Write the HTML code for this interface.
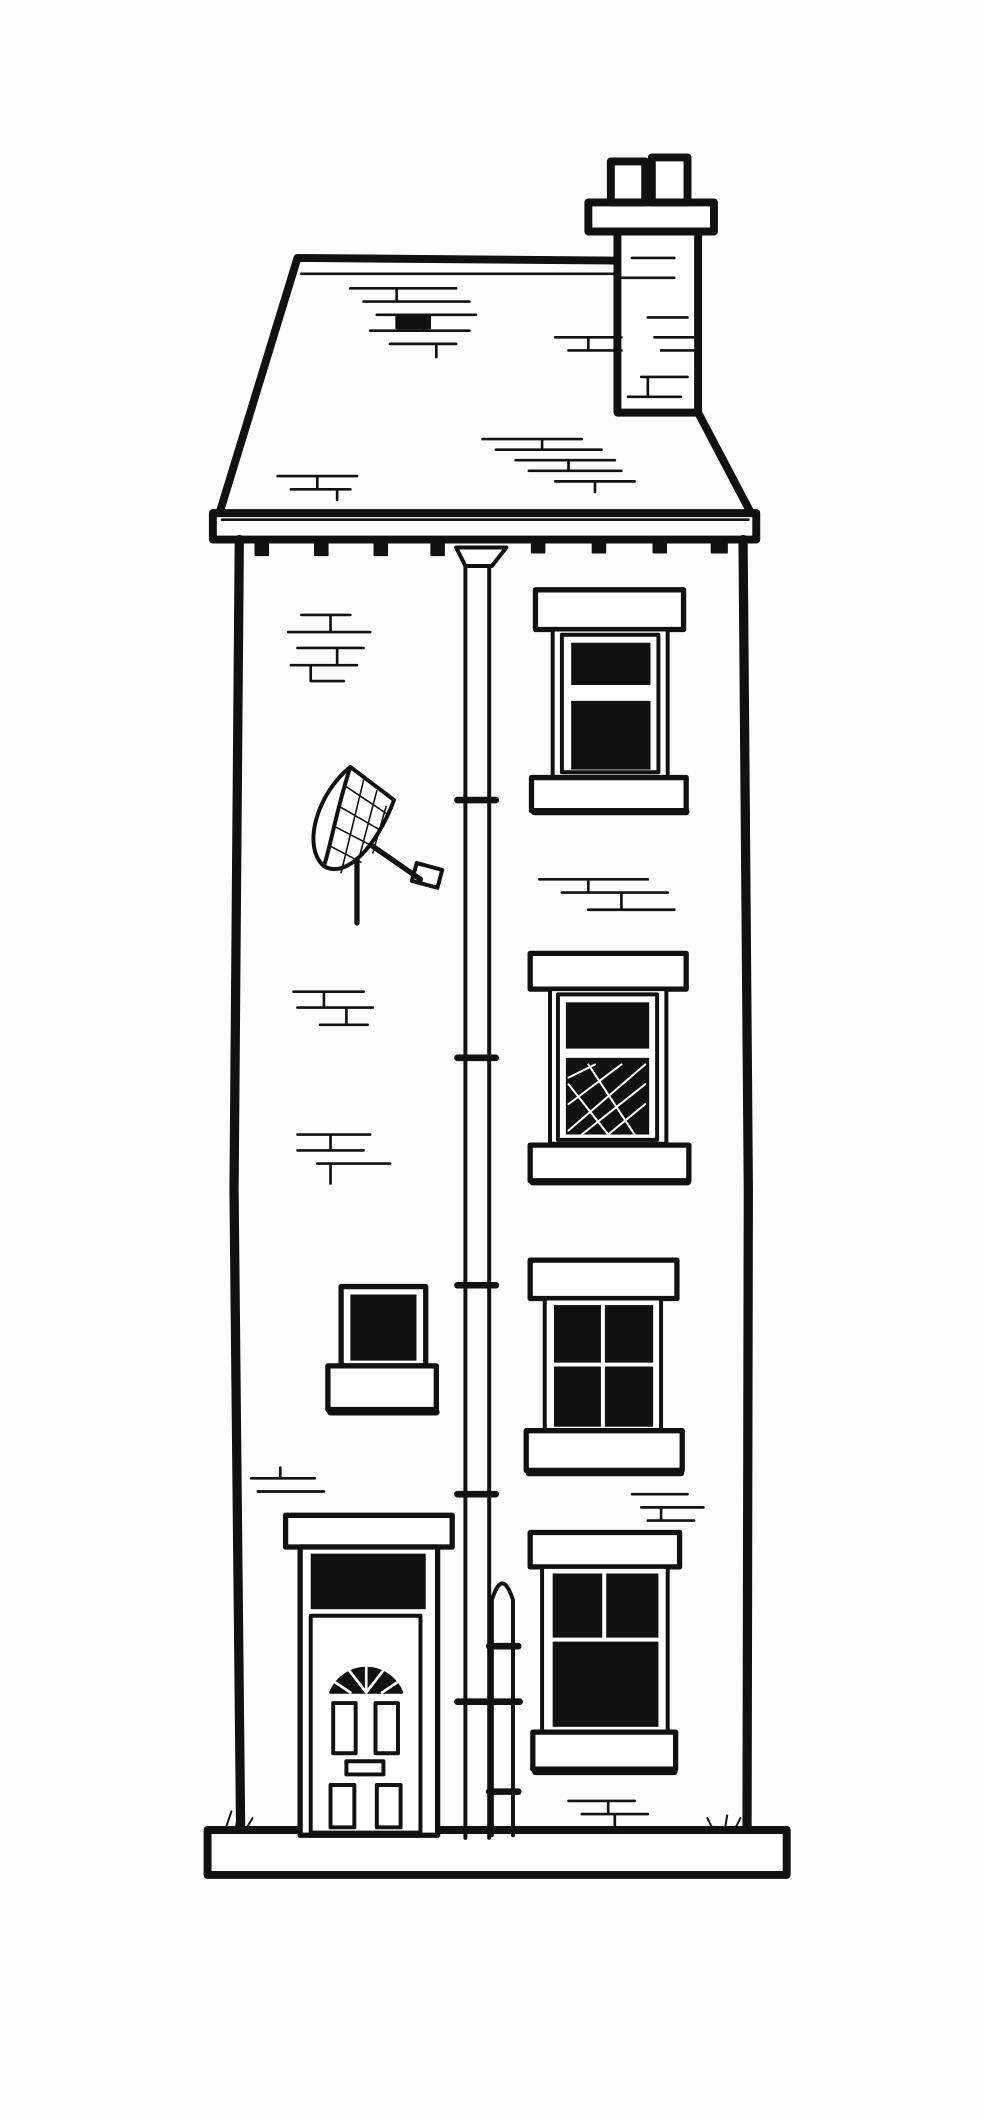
<!DOCTYPE html>
<html><head><meta charset="utf-8"><style>html,body{margin:0;padding:0;background:#fff}svg{display:block}</style></head>
<body>
<svg width="985" height="2117" viewBox="0 0 745 1601" xmlns="http://www.w3.org/2000/svg">
<rect width="745" height="1601" fill="#fdfdfd"/>
<g fill="none" stroke="#111" stroke-linecap="round" stroke-linejoin="round">
<!-- roof -->
<path d="M225 195 L465 197 M225 195 L166 388 M528 312 L568 388" stroke-width="6"/>
<path d="M228 207 L465 207" stroke-width="2"/>
<rect x="161" y="388" width="411" height="20" stroke-width="6" fill="#fff"/>
<path d="M168 393 L566 393" stroke-width="2"/>
<!-- eave brackets -->
<g fill="#111" stroke-width="1">
<rect x="193" y="408" width="10" height="12"/><rect x="238" y="408" width="10" height="12"/><rect x="283" y="408" width="10" height="12"/><rect x="326" y="408" width="10" height="12"/><rect x="402" y="408" width="10" height="10"/><rect x="448" y="408" width="10" height="10"/><rect x="494" y="408" width="10" height="10"/><rect x="538" y="408" width="12" height="10"/>
</g>
<!-- chimney -->
<rect x="467" y="175" width="61" height="137" stroke-width="6" fill="#fff"/>
<rect x="445" y="153" width="95" height="22" stroke-width="6" fill="#fff"/>
<rect x="462" y="122" width="26" height="31" stroke-width="6" fill="#fff"/>
<rect x="493" y="119" width="27" height="34" stroke-width="6" fill="#fff"/>
<!-- roof bricks -->
<g stroke-width="2">
<path d="M265 218 H345 M275 228 H355 M285 238 H360 M280 250 H355 M295 260 H345 M300 218 V228 M320 238 V250 M330 260 V270"/>
<rect x="300" y="238" width="25" height="10" fill="#111"/>
<path d="M420 255 H470 M430 265 H470 M445 255 V265 M490 240 H520 M495 255 H525 M500 265 H525 M478 195 H510 M470 210 H510 M485 285 H520 M475 300 H515 M490 285 V300"/>
<path d="M365 332 H440 M375 340 H455 M390 348 H465 M400 356 H470 M420 364 H480 M410 332 V340 M430 348 V356 M450 364 V372"/>
<path d="M210 360 H270 M220 370 H265 M240 360 V370 M255 370 V378"/>
</g>
<!-- walls -->
<path d="M181 408 L177 900 L182 1385" stroke-width="7"/>
<path d="M562 408 L566 900 L565 1385" stroke-width="7"/>
<!-- base -->
<rect x="157" y="1384" width="438" height="34" stroke-width="6" fill="#fff"/>
<path d="M170 1385 l5 -15 M178 1385 l2 -12 M185 1385 l6 -10 M540 1385 l-5 -10 M548 1385 l2 -12 M555 1385 l5 -10" stroke-width="1.5"/>
<!-- drainpipe -->
<path d="M352 425 V1390 M370 425 V1390" stroke-width="3"/>
<path d="M345 414 H383 L372 428 H352 Z" stroke-width="3" fill="#fff"/>
<g stroke-width="5"><path d="M346 605 H375 M346 800 H375 M346 972 H375 M346 1130 H375 M346 1287 H393 M370 1245 H392 M370 1355 H392"/></g>
<path d="M372 1388 V1210 Q380 1185 388 1210 V1388" stroke-width="3"/>
<!-- window 1 -->
<rect x="405" y="446" width="112" height="30" stroke-width="4" fill="#fff"/>
<rect x="418" y="476" width="87" height="112" stroke-width="3" fill="#fff"/>
<rect x="425" y="480" width="73" height="104" stroke-width="3"/>
<rect x="432" y="486" width="60" height="32" fill="#111" stroke="none"/>
<rect x="432" y="530" width="60" height="52" fill="#111" stroke="none"/>
<rect x="402" y="588" width="117" height="25" stroke-width="4" fill="#fff"/>
<path d="M404 614 H519" stroke-width="5"/>
<!-- window 2 -->
<rect x="401" y="721" width="118" height="27" stroke-width="4" fill="#fff"/>
<rect x="416" y="748" width="88" height="117" stroke-width="3" fill="#fff"/>
<rect x="422" y="752" width="75" height="110" stroke-width="3"/>
<rect x="428" y="758" width="63" height="35" fill="#111" stroke="none"/>
<rect x="428" y="800" width="63" height="58" fill="#111" stroke="none"/>
<g stroke="#fff" stroke-width="1.5"><path d="M430 855 L488 805 M440 858 L488 820 M460 858 L488 835 M430 835 L470 805 M430 815 L450 805 M445 805 L480 858 M430 820 L460 858"/></g>
<rect x="401" y="866" width="120" height="27" stroke-width="4" fill="#fff"/>
<path d="M403 894 H520" stroke-width="5"/>
<!-- window 3 -->
<rect x="401" y="953" width="111" height="29" stroke-width="4" fill="#fff"/>
<rect x="412" y="982" width="88" height="100" stroke-width="3" fill="#fff"/>
<rect x="419" y="987" width="75" height="92" fill="#111" stroke="none"/>
<path d="M456 987 V1079 M419 1032 H494" stroke="#fff" stroke-width="3"/>
<rect x="398" y="1082" width="118" height="30" stroke-width="4" fill="#fff"/>
<path d="M400 1114 H515" stroke-width="5"/>
<!-- window 4 -->
<rect x="401" y="1159" width="113" height="26" stroke-width="4" fill="#fff"/>
<rect x="410" y="1185" width="95" height="125" stroke-width="3" fill="#fff"/>
<rect x="418" y="1190" width="80" height="116" fill="#111" stroke="none"/>
<path d="M457 1190 V1240 M418 1240 H498" stroke="#fff" stroke-width="3"/>
<rect x="403" y="1310" width="108" height="28" stroke-width="4" fill="#fff"/>
<path d="M405 1340 H510" stroke-width="5"/>
<!-- small window -->
<rect x="258" y="973" width="64" height="60" stroke-width="4" fill="#fff"/>
<rect x="265" y="979" width="50" height="50" fill="#111" stroke="none"/>
<rect x="248" y="1033" width="82" height="33" stroke-width="4" fill="#fff"/>
<path d="M250 1068 H330" stroke-width="5"/>
<!-- door -->
<rect x="216" y="1146" width="126" height="24" stroke-width="4" fill="#fff"/>
<rect x="227" y="1170" width="104" height="218" stroke-width="4" fill="#fff"/>
<rect x="235" y="1175" width="87" height="42" fill="#111" stroke="none"/>
<rect x="235" y="1222" width="83" height="164" stroke-width="3"/>
<path d="M250 1280 A29 29 0 0 1 304 1280 Z" fill="#111" stroke-width="2"/>
<path d="M277 1280 L260 1258 M277 1280 L277 1250 M277 1280 L294 1258 M265 1280 L250 1270 M289 1280 L304 1270" stroke="#fff" stroke-width="2"/>
<rect x="252" y="1288" width="17" height="38" stroke-width="3"/><rect x="284" y="1288" width="17" height="38" stroke-width="3"/>
<rect x="262" y="1332" width="28" height="10" stroke-width="3"/>
<rect x="250" y="1350" width="18" height="32" stroke-width="3"/><rect x="285" y="1350" width="18" height="32" stroke-width="3"/>
<!-- satellite dish -->
<path d="M265 580 C240 600 228 640 245 655 C262 665 285 640 298 605 Z" stroke-width="3" fill="#fff"/>
<path d="M265 580 C255 610 250 640 245 655" stroke-width="3"/>
<g stroke-width="1.2"><path d="M262 595 L292 615 M257 610 L288 628 M253 625 L282 640 M250 640 L273 652 M275 590 L258 660 M285 598 L270 655 M292 610 L282 645"/></g>
<path d="M270 650 V698 M282 640 L318 665" stroke-width="4"/>
<rect x="313" y="655" width="20" height="14" stroke-width="3" transform="rotate(15 323 662)"/>
<!-- wall bricks -->
<g stroke-width="2">
<path d="M228 465 H265 M218 478 H280 M225 490 H275 M220 503 H270 M235 503 V515 H260 M250 465 V478 M255 490 V503"/>
<path d="M408 665 H490 M425 675 H505 M445 688 H510 M445 665 V675 M470 675 V688"/>
<path d="M222 750 H275 M225 762 H282 M242 775 H278 M245 750 V762 M262 762 V775"/>
<path d="M225 858 H280 M225 870 H275 M240 880 H295 M250 858 V870 M250 880 V895"/>
<path d="M190 1118 H238 M195 1128 H245 M212 1110 V1118"/>
<path d="M478 1130 H520 M485 1140 H532 M490 1150 H525 M500 1140 V1150"/>
<path d="M430 1362 H480 M440 1372 H490 M460 1362 V1372 M465 1372 V1385"/>
</g>
</g>
</svg>
</body></html>
